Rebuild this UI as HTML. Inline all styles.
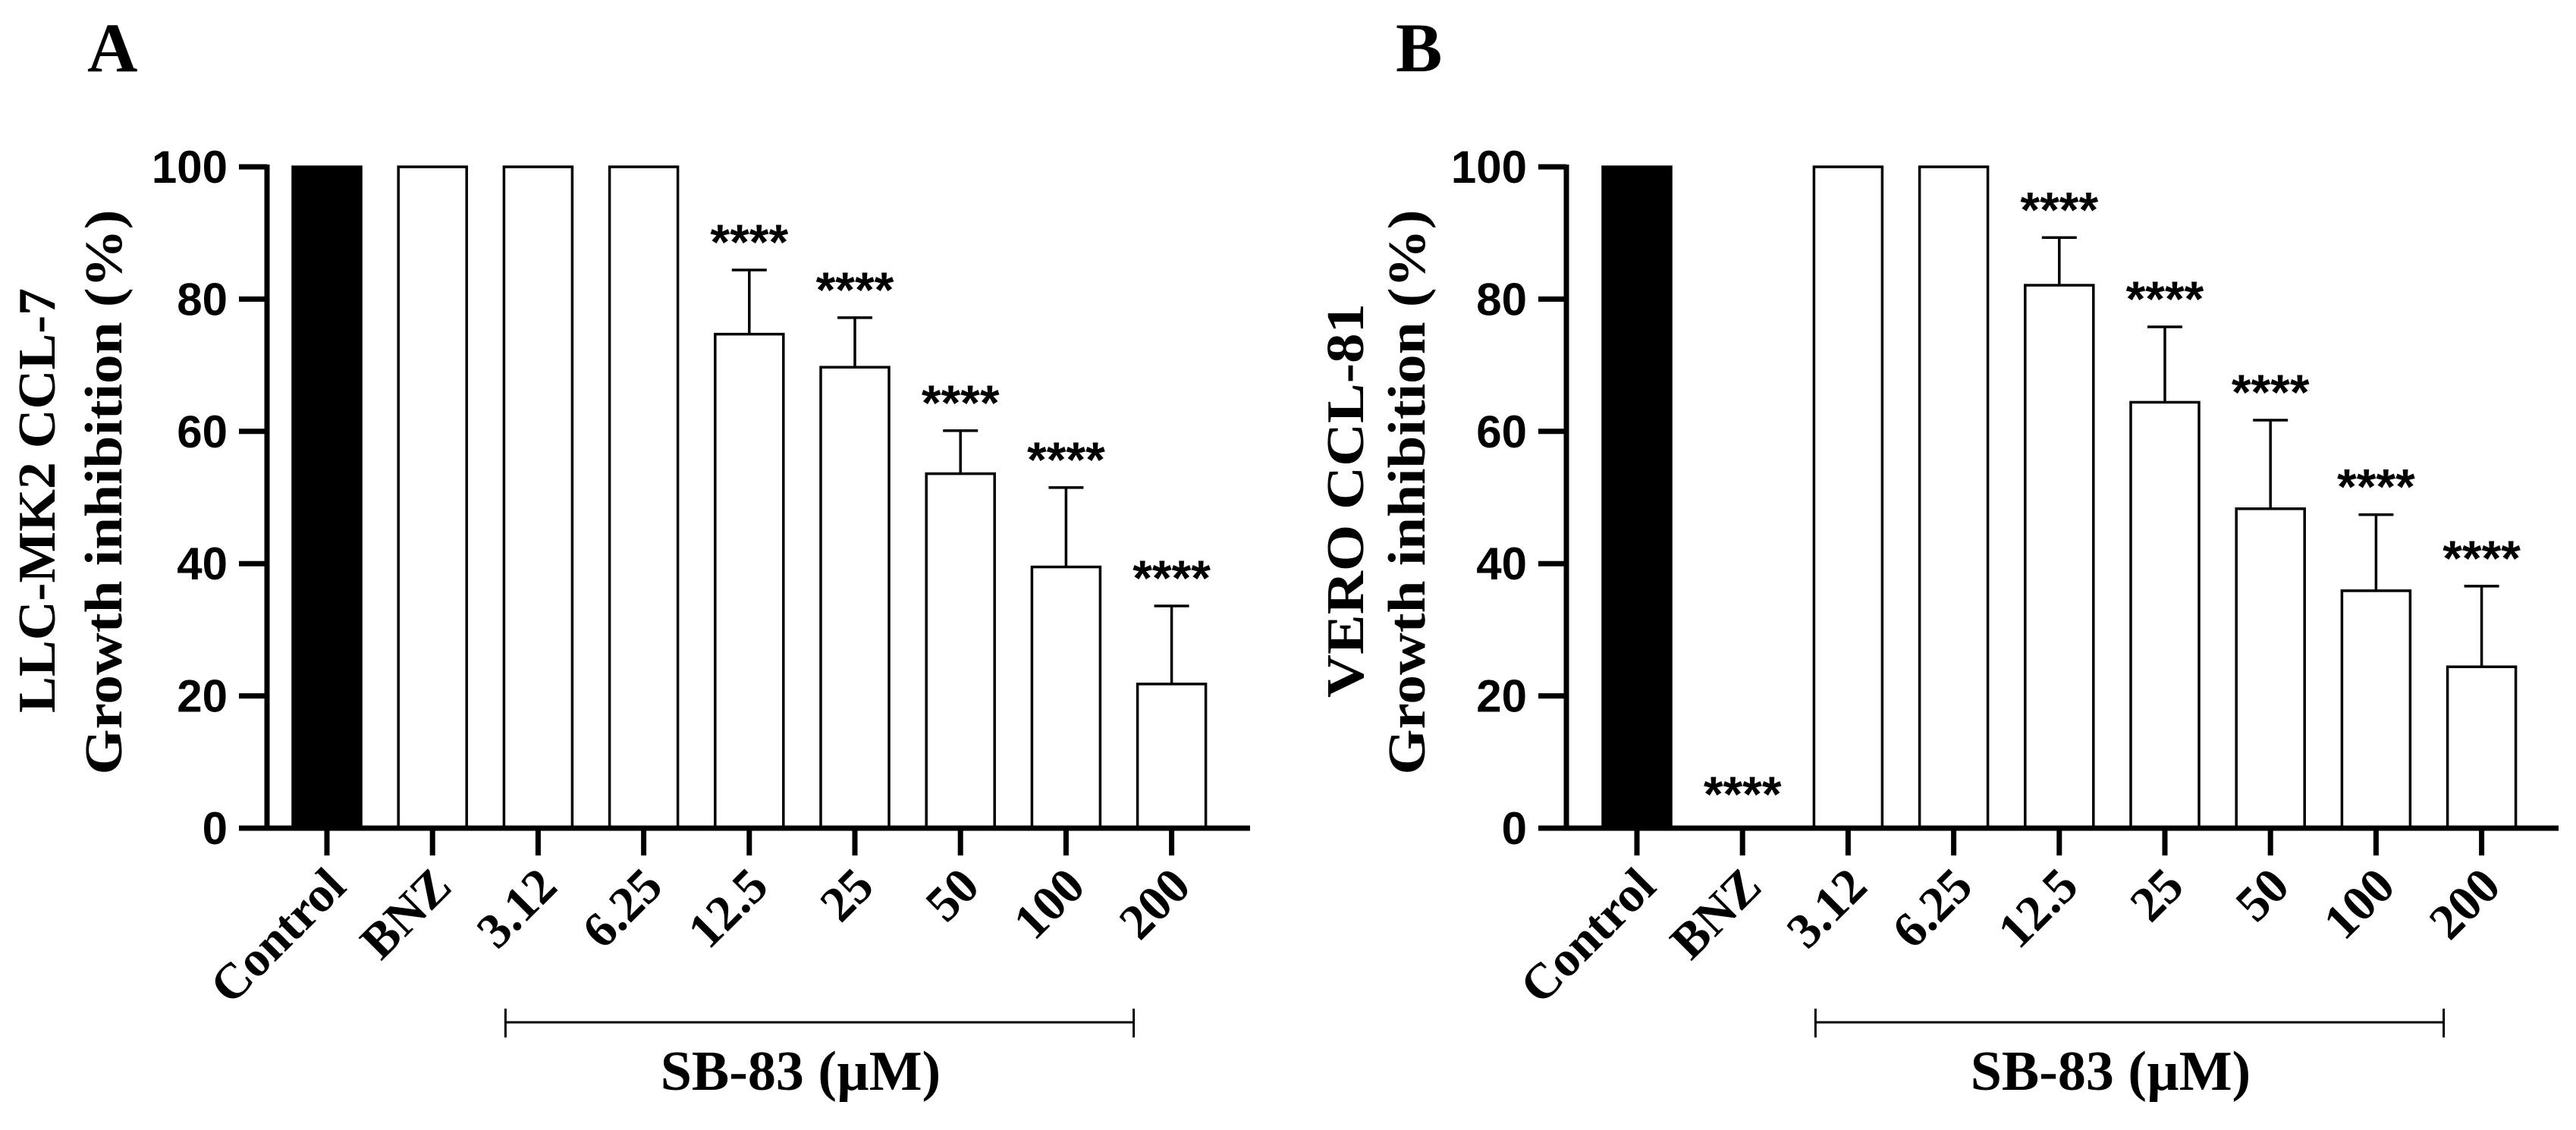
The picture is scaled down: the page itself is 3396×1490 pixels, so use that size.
<!DOCTYPE html>
<html><head><meta charset="utf-8"><style>
html,body{margin:0;padding:0;background:#fff;}
svg{display:block;}
</style></head><body>
<svg id="fig" width="3396" height="1490" viewBox="0 0 3396 1490" xmlns="http://www.w3.org/2000/svg">
<rect width="3396" height="1490" fill="#fff"/>
</svg>
<script>
const categories = ["Control","BNZ","3.12","6.25","12.5","25","50","100","200"];
const valuesA = [100,100,100,100,74.7,69.7,53.6,39.5,21.8];
const errA    = [0,0,0,0,9.7,7.5,6.5,12.0,11.8];
const starsA  = [false,false,false,false,true,true,true,true,true];
const valuesB = [100,0,100,100,82.1,64.4,48.3,35.9,24.4];
const errB    = [0,0,0,0,7.2,11.4,13.4,11.5,12.2];
const starsB  = [false,true,false,false,true,true,true,true,true];
const yTicks  = [0,20,40,60,80,100];
const NS = "http://www.w3.org/2000/svg";
const svg = document.getElementById('fig');
function mk(tag, attrs, parent, txt){
  const e = document.createElementNS(NS, tag);
  for (const k in attrs) e.setAttribute(k, attrs[k]);
  if (txt !== undefined) e.textContent = txt;
  (parent||svg).appendChild(e);
  return e;
}
function panel(cfg){
  const g = mk('g', {});
  
  
  const y0 = 1092, y100 = 220;
  const yScale = v => y0 + (y100 - y0) * v / 100;
  const xs = i => cfg.cx0 + i * 139.2;
  const serif = '"Liberation Serif", serif', sans = '"Liberation Sans", sans-serif';
  const L = mk('text', {x: cfg.letterX, y: 94, 'font-family': serif, 'font-weight': 'bold', 'font-size': 92}, g, cfg.letter);
  
  
  cfg.values.forEach((v, i) => {
    const cx = xs(i), w = 90;
    const top = yScale(v);
    if (v > 0) {
      const r = mk('rect', {x: cx - w/2, y: top, width: w, height: y0 - top, fill: i === 0 ? '#000' : '#fff', stroke: '#000', 'stroke-width': 3.5}, g);
      
      
    }
    if (cfg.err[i] > 0) {
      const et = yScale(v + cfg.err[i]);
      const e1 = mk('line', {x1: cx, x2: cx, y1: top, y2: et, stroke: '#000', 'stroke-width': 3.5}, g);
      
      
      const e2 = mk('line', {x1: cx - 23, x2: cx + 23, y1: et, y2: et, stroke: '#000', 'stroke-width': 3.5}, g);
      
      
    }
    if (cfg.stars[i]) {
      const sy = v > 0 ? yScale(v + cfg.err[i]) - 14 : 1070;
      const s = mk('text', {x: cx, y: sy, 'text-anchor': 'middle', 'font-family': sans, 'font-weight': 'bold', 'font-size': 66}, g, '****');
      
      
    }
    const t = mk('line', {x1: cx, x2: cx, y1: y0, y2: 1128, stroke: '#000', 'stroke-width': 7}, g);
    
    
    const lab = mk('text', {x: 0, y: 0, 'text-anchor': 'end', 'font-family': serif, 'font-weight': 'bold', 'font-size': 66,
      transform: 'translate(' + (cx + 28) + ',1172) rotate(-45)'}, g, categories[i]);
    
    
  });
  const ya = mk('line', {x1: cfg.ax, x2: cfg.ax, y1: y100 - 3, y2: y0 + 3.5, stroke: '#000', 'stroke-width': 7}, g);
  
  
  const xa = mk('line', {x1: cfg.ax - 37, x2: cfg.axEnd, y1: y0, y2: y0, stroke: '#000', 'stroke-width': 7}, g);
  
  
  yTicks.forEach(v => {
    const y = yScale(v);
    if (v > 0) {
      const t = mk('line', {x1: cfg.ax - 37, x2: cfg.ax, y1: y, y2: y, stroke: '#000', 'stroke-width': 7}, g);
      
      
    }
    const tl = mk('text', {x: cfg.ax - 52, y: y + 21, 'text-anchor': 'end', 'font-family': sans, 'font-weight': 'bold', 'font-size': 60}, g, String(v));
    
    
  });
  const t1 = mk('text', {x: 0, y: 0, 'text-anchor': 'middle', 'font-family': serif, 'font-weight': 'bold', 'font-size': 70,
    textLength: cfg.t1Len, lengthAdjust: 'spacingAndGlyphs', transform: 'translate(' + cfg.t1x + ',660) rotate(-90)'}, g, cfg.title1);
  
  
  const t2 = mk('text', {x: 0, y: 0, 'text-anchor': 'middle', 'font-family': serif, 'font-weight': 'bold', 'font-size': 70,
    textLength: 745, lengthAdjust: 'spacingAndGlyphs', transform: 'translate(' + cfg.t2x + ',649) rotate(-90)'}, g, 'Growth inhibition (%)');
  
  
  const bx1 = xs(2) - 43, bx2 = xs(8) - 50;
  const b = mk('path', {d: 'M' + bx1 + ',1330 V1368 M' + bx1 + ',1348 H' + bx2 + ' M' + bx2 + ',1330 V1368', stroke: '#000', 'stroke-width': 3, fill: 'none'}, g);
  
  
  const bl = mk('text', {x: (bx1 + bx2) / 2 - 25, y: 1437, 'text-anchor': 'middle', 'font-family': serif, 'font-weight': 'bold', 'font-size': 74}, g, 'SB-83 (\u00B5M)');
  
  
}
panel({name: 'panel-a', letter: 'A', letterX: 115, cx0: 431, ax: 352, axEnd: 1648, values: valuesA, err: errA, stars: starsA,
  title1: 'LLC-MK2 CCL-7', t1Len: 560, t1x: 72, t2x: 160});
panel({name: 'panel-b', letter: 'B', letterX: 1840, cx0: 2158, ax: 2065, axEnd: 3373, values: valuesB, err: errB, stars: starsB,
  title1: 'VERO CCL-81', t1Len: 520, t1x: 1797, t2x: 1878});
</script>
</body></html>
